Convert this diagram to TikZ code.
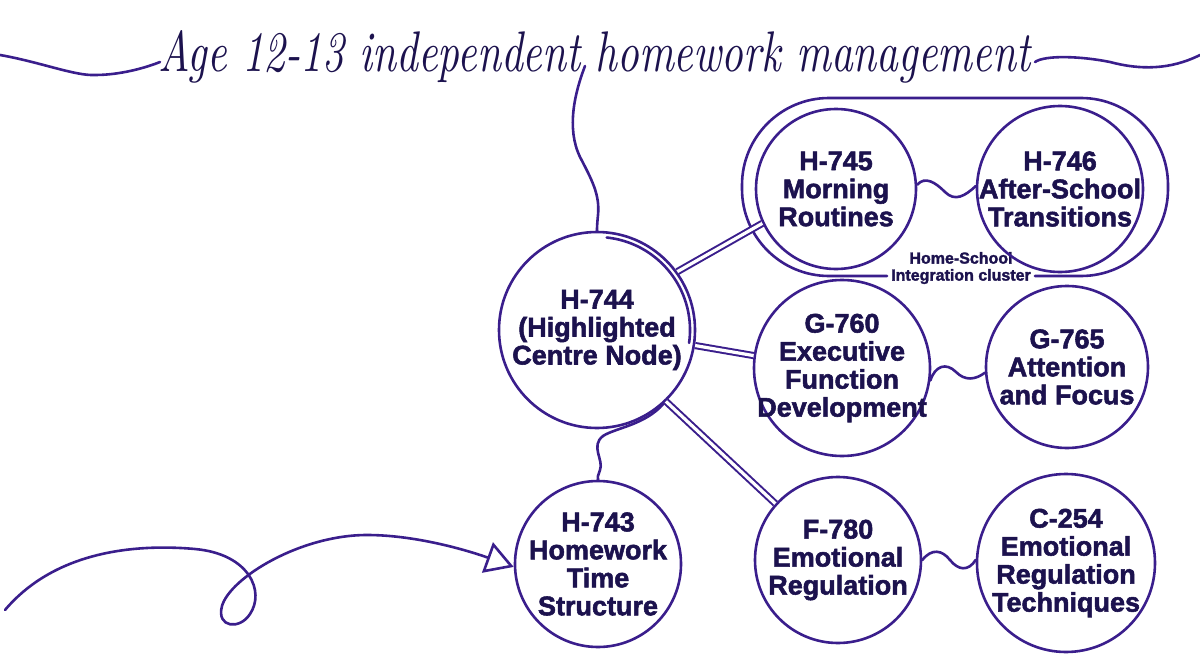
\documentclass[tikz,border=0pt]{standalone}
\usepackage{fontspec}
\usepackage{graphicx}
\usetikzlibrary{arrows.meta}
\newfontfamily\nodefont{Liberation Sans}[BoldFeatures={FakeBold=2}]
\definecolor{ln}{RGB}{58,30,140}
\definecolor{tx}{RGB}{28,18,78}
\begin{document}
\begin{tikzpicture}[x=1pt,y=-1pt,
  ln/.style={draw=ln, line width=2.6pt, line cap=round},
  circ/.style={circle, draw=ln, line width=2.6pt, inner sep=0pt},
  lbl/.style={text=tx, font=\nodefont\bfseries\fontsize{27}{28}\selectfont, align=center, inner sep=0pt},
  small/.style={text=tx, font=\nodefont\bfseries\fontsize{16}{17}\selectfont, align=center, inner sep=0pt},
  dbl/.style={draw=ln, line width=2pt, double=white, double distance=3.2pt},
]
\useasboundingbox (0,0) rectangle (1200,669);

% title
\node[anchor=base west, inner sep=0pt, text=tx] (title) at (158,72)
  {\resizebox{872pt}{41pt}{\itshape Age 12-13 independent homework management}};
\coordinate (tl) at (0,55);
\coordinate (ta) at (160,62);
\coordinate (te) at (1035,62);
\coordinate (tr) at (1200,55);
\coordinate (tt) at (585,66);

% cluster
\draw[ln, rounded corners=87pt] (887,276) -- (742,276) -- (742,98) -- (1168,98) -- (1168,276) -- (1035,276);
\node[small] (cl) at (961,268) {Home-School\\Integration cluster};

% circles
\node[circ, minimum size=196pt] (h744) at (597,330) {};
\node[lbl] (h744t) at (h744) {H-744\\(Highlighted\\Centre Node)};
\node[circ, minimum size=166pt] (h743) at (598,564) {};
\node[lbl] (h743t) at (h743) {H-743\\Homework\\Time\\Structure};
\node[circ, minimum size=160pt] (h745) at (836,189) {};
\node[lbl] (h745t) at (h745) {H-745\\Morning\\Routines};
\node[circ, minimum size=166pt] (h746) at (1060,189) {};
\node[lbl] (h746t) at (h746) {H-746\\After-School\\Transitions};
\node[circ, minimum size=176pt] (g760) at (842,368) {};
\node[lbl] (g760t) at (g760) {G-760\\Executive\\Function\\Development};
\node[circ, minimum size=162pt] (g765) at (1067,367) {};
\node[lbl] (g765t) at (g765) {G-765\\Attention\\and Focus};
\node[circ, minimum size=166pt] (f780) at (838,560) {};
\node[lbl] (f780t) at (f780) {F-780\\Emotional\\Regulation};
\node[circ, minimum size=178pt] (c254) at (1066,563) {};
\node[lbl] (c254t) at (c254) {C-254\\Emotional\\Regulation\\Techniques};

% inner double arc of centre node
\draw[ln] (h744.center) ++(84:93pt) arc[start angle=84, end angle=-8, radius=93pt];

% title connectors
\draw[ln] (tl) .. controls (40,62) and (75,76) .. (95,75) .. controls (120,75) and (145,68) .. (ta);
\draw[ln] (te) .. controls (1045,55) and (1080,56) .. (1110,62) .. controls (1140,70) and (1170,70) .. (tr);
\draw[ln] (tt) .. controls (575,92) and (566,128) .. (580,157) .. controls (592,180) and (600,195) .. (598,215) .. controls (597,225) and (597,228) .. (h744.north);

% links from centre
\draw[dbl] (h744.36) -- (h745.205);
\draw[dbl] (h744.-9) -- (g760.172);
\draw[dbl] (h744.-46) -- (f780.138);
\draw[ln] (h744.-48) .. controls (645,425) and (615,428) .. (603,436) .. controls (590,446) and (604,460) .. (600,470) .. controls (598,476) and (597,478) .. (h743.north);

% waves
\draw[ln] (h745.3) .. controls (925,176) and (935,182) .. (945,192) .. controls (955,202) and (965,196) .. (h746.178);
\draw[ln] (g760.-8) .. controls (935,366) and (946,362) .. (956,372) .. controls (965,381) and (975,380) .. (g765.184);
\draw[ln] (f780.0) .. controls (932,548) and (942,550) .. (950,560) .. controls (958,570) and (968,572) .. (c254.178);

% incoming arrow
\coordinate (as) at (5,610);
\draw[ln, -{Triangle[open, length=28pt, width=32pt, line width=2.6pt]}] (as) .. controls (60,545) and (150,545) .. (195,549) .. controls (250,554) and (265,592) .. (250,614) .. controls (240,630) and (216,628) .. (222,606) .. controls (230,578) and (300,535) .. (367,535) .. controls (420,535) and (475,553) .. (h743.182);
\end{tikzpicture}
\end{document}
